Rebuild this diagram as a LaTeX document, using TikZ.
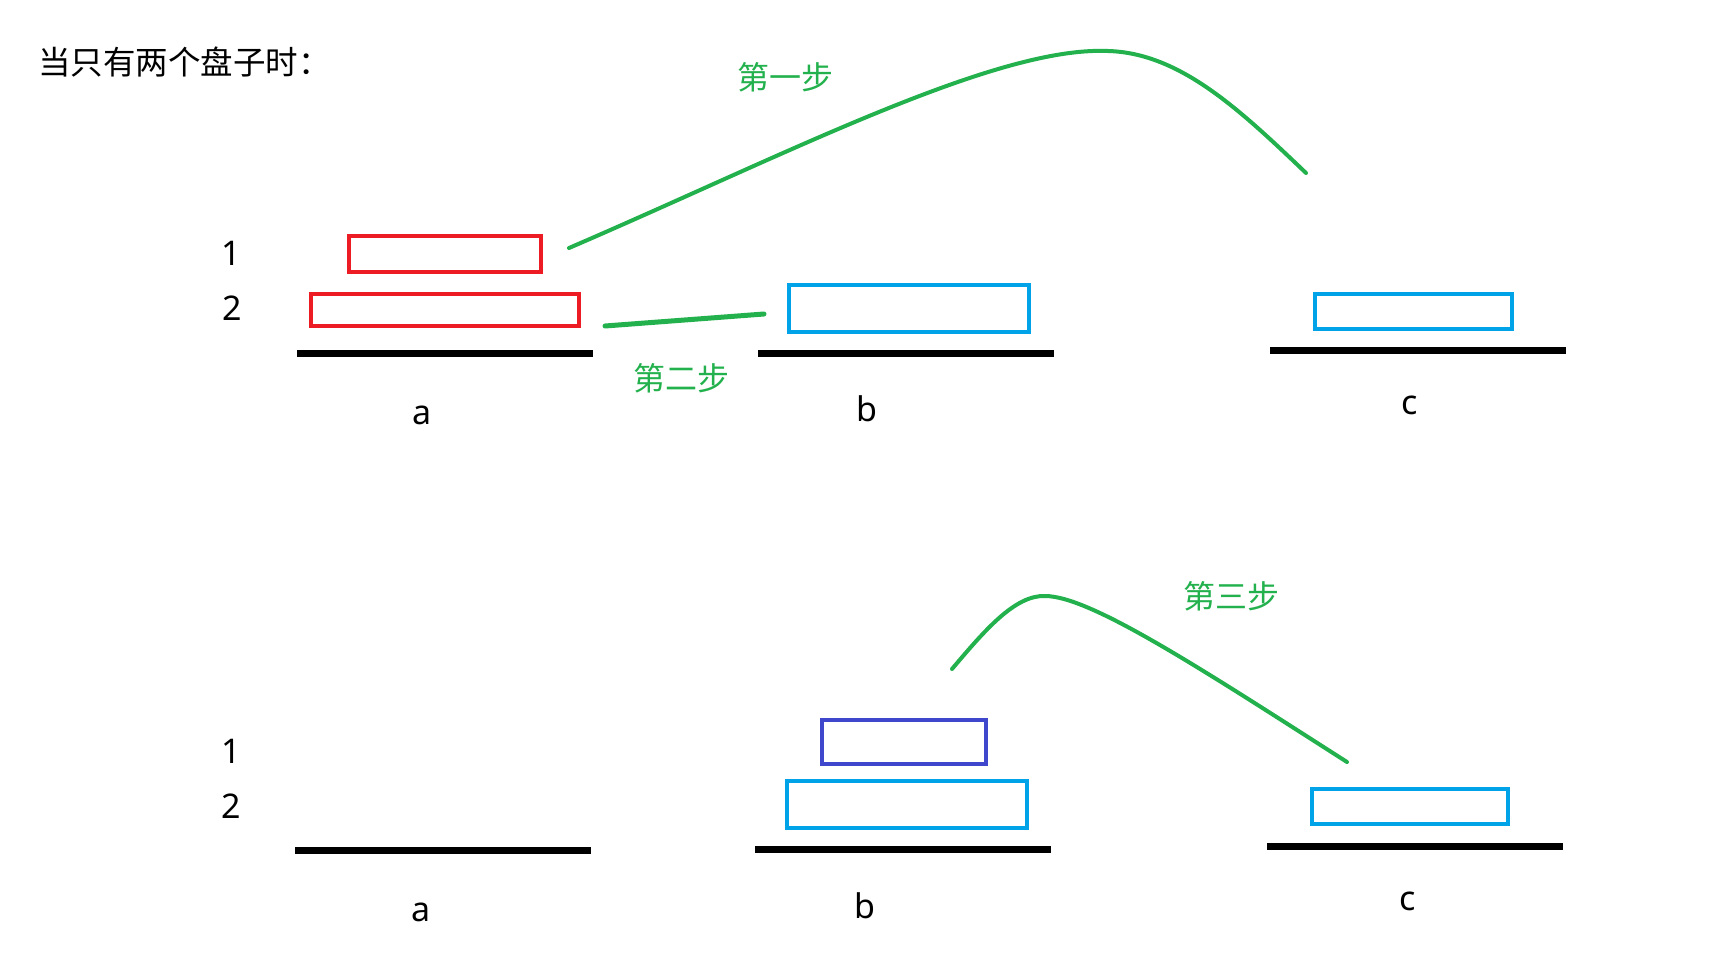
\documentclass[tikz,border=0pt]{standalone}
\usepackage{fontspec}
\setmainfont{Noto Sans}
\newfontfamily\cjk{Noto Sans CJK SC}
\definecolor{pred}{HTML}{ED1C24}
\definecolor{pblue}{HTML}{00A2E8}
\definecolor{pgreen}{HTML}{22B14C}
\definecolor{pindigo}{HTML}{3F48CC}
\begin{document}
\begin{tikzpicture}[x=1pt,y=-1pt,
  disk/.style={draw, line width=4pt, inner sep=0pt, rectangle},
  reddisk/.style={disk, draw=pred},
  bluedisk/.style={disk, draw=pblue},
  indigodisk/.style={disk, draw=pindigo},
  base/.style={fill=black, inner sep=0pt, minimum width=296pt, minimum height=7pt},
  move/.style={draw=pgreen, line width=4pt, line cap=round},
  lbl/.style={inner sep=0pt, font=\fontsize{34}{34}\selectfont},
  steplbl/.style={inner sep=0pt, text=pgreen, font=\cjk\fontsize{32}{32}\selectfont},
  titlelbl/.style={inner sep=0pt, anchor=west, font=\cjk\fontsize{32.5}{32.5}\selectfont},
]
\useasboundingbox[fill=white] (0,0) rectangle (1715,977);

\node[titlelbl] (title) at (38,62) {当只有两个盘子时：};

% top row
\node[lbl] (t1) at (231,253) {1};
\node[lbl] (t2) at (232,308) {2};
\node[reddisk, minimum width=192pt, minimum height=36pt] (ta1) at (445,254) {};
\node[reddisk, minimum width=268pt, minimum height=32pt] (ta2) at (445,310) {};
\node[base] (tbasea) at (445,353.5) {};
\node[base] (tbaseb) at (905.5,353) {};
\node[base] (tbasec) at (1417.5,350) {};
\node[lbl] (tla) at (422,415) {a};
\node[lbl] (tlb) at (867,409) {b};
\node[lbl] (tlc) at (1410,405) {c};
\node[bluedisk, minimum width=240pt, minimum height=47pt] (tb) at (909,308.5) {};
\node[bluedisk, minimum width=197pt, minimum height=35pt] (tc) at (1413.5,311.5) {};

\coordinate (m1s) at (569,248);
\coordinate (m1e) at (1306,173);
\draw[move] (m1s) .. controls (785,155) and (995,46) .. (1108,51)
  .. controls (1180,53) and (1240,110) .. (m1e);
\node[steplbl] (s1) at (785,77) {第一步};

\coordinate (m2s) at (605,326);
\coordinate (m2e) at (764,314);
\draw[move, line width=5pt] (m2s) -- (m2e);
\node[steplbl] (s2) at (681,378) {第二步};

% bottom row
\node[lbl] (b1) at (231,751) {1};
\node[lbl] (b2) at (231,806) {2};
\node[base] (bbasea) at (443,850) {};
\node[base] (bbaseb) at (903,849) {};
\node[base] (bbasec) at (1415,846) {};
\node[lbl] (bla) at (421,912) {a};
\node[lbl] (blb) at (865,906) {b};
\node[lbl] (blc) at (1408,901) {c};
\node[indigodisk, minimum width=164pt, minimum height=44pt] (bb1) at (904,742) {};
\node[bluedisk, minimum width=240pt, minimum height=47pt] (bb2) at (907,804.5) {};
\node[bluedisk, minimum width=196pt, minimum height=35pt] (bc) at (1410,806.5) {};

\coordinate (m3s) at (952,669);
\coordinate (m3e) at (1347,762);
\draw[move] (m3s) .. controls (985,630) and (1015,595) .. (1045,596)
  .. controls (1090,596) and (1200,668) .. (m3e);
\node[steplbl] (s3) at (1231,596) {第三步};
\end{tikzpicture}
\end{document}
